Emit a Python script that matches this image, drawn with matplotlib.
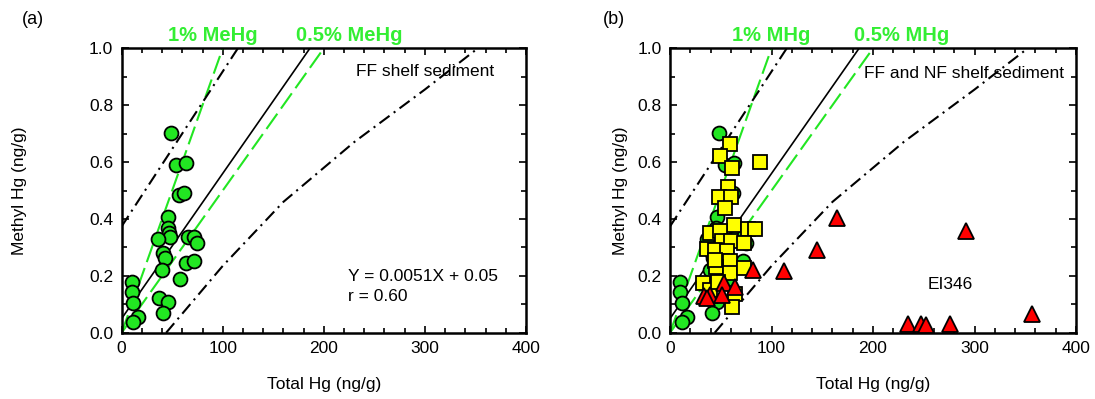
import matplotlib
matplotlib.use("Agg")
import matplotlib.pyplot as plt
from matplotlib.ticker import MultipleLocator

plt.rcParams['font.family'] = ['Liberation Sans', 'DejaVu Sans']

# FF shelf sediment (green circles), both panels
ff_x = [48.7, 53.7, 63.5, 57.0, 61.6, 46.1, 45.4, 47.0, 47.7, 36.2, 65.2, 71.8, 75.0,
        41.2, 42.8, 39.5, 63.5, 71.8, 57.6, 37.2, 46.1, 41.2, 9.9, 9.9, 11.5, 16.5, 11.5]
ff_y = [0.701, 0.589, 0.598, 0.484, 0.492, 0.407, 0.368, 0.351, 0.336, 0.329, 0.336, 0.336, 0.315,
        0.280, 0.262, 0.219, 0.245, 0.253, 0.188, 0.121, 0.109, 0.071, 0.180, 0.145, 0.104, 0.054, 0.039]

# NF shelf sediment (yellow squares), panel b
nf_x = [59.4, 48.8, 88.4, 61.0, 57.1, 47.9, 60.4, 53.8, 63.4, 76.9, 84.2, 38.9, 48.8, 51.2,
        60.1, 72.6, 36.3, 43.9, 56.1, 43.9, 51.2, 59.4, 45.5, 59.4, 72.6, 32.0, 38.9, 47.2,
        64.4, 61.1, 44.5]
nf_y = [0.665, 0.622, 0.601, 0.578, 0.514, 0.476, 0.476, 0.440, 0.380, 0.366, 0.365, 0.350, 0.359, 0.323,
        0.321, 0.317, 0.296, 0.292, 0.288, 0.251, 0.251, 0.251, 0.230, 0.211, 0.226, 0.175, 0.152, 0.177,
        0.135, 0.091, 0.257]

# EI346 (red triangles), panel b
ei_x = [164.0, 292.0, 145.0, 112.2, 81.8, 52.8, 64.4, 33.0, 39.6, 51.2, 36.3,
        234.3, 247.5, 252.4, 276.0, 356.4]
ei_y = [0.403, 0.356, 0.292, 0.216, 0.222, 0.175, 0.160, 0.128, 0.134, 0.134, 0.122,
        0.032, 0.032, 0.027, 0.032, 0.066]

# regression Y = 0.0051X + 0.05
slope, intercept = 0.0051, 0.05
reg_x = [0, 400]

# prediction band edges
up_x = [0, 115, 130]
up_y = [0.374, 1.0, 1.08]
lo_x = [44, 100, 160, 230, 300, 347, 360]
lo_y = [0.0, 0.235, 0.46, 0.67, 0.855, 0.985, 1.02]

# 1% and 0.5% ratio lines
ratio_x = [0, 400]

GREEN = '#22e622'
GREEN_TXT = '#33ee33'

fig = plt.figure(figsize=(10.95, 3.99), dpi=100)
ax_a = fig.add_axes([0.1111, 0.166, 0.3692, 0.713])
ax_b = fig.add_axes([0.6119, 0.166, 0.3708, 0.713])


def draw_lines(ax):
    ax.plot(ratio_x, [0.01 * v for v in ratio_x], color=GREEN, lw=1.5, dashes=(9, 3), zorder=2)
    ax.plot(ratio_x, [0.005 * v for v in ratio_x], color=GREEN, lw=1.5, dashes=(9, 3), zorder=2)
    ax.plot(reg_x, [slope * v + intercept for v in reg_x], color='black', lw=1.2, zorder=2)
    ax.plot(up_x, up_y, color='black', lw=1.5, dashes=(6, 2.5, 1, 2.5), zorder=2)
    ax.plot(lo_x, lo_y, color='black', lw=1.5, dashes=(6, 2.5, 1, 2.5), zorder=2)


def style(ax, ypad):
    ax.set_xlim(0, 400)
    ax.set_ylim(0, 1.0)
    ax.xaxis.set_major_locator(MultipleLocator(100))
    ax.xaxis.set_minor_locator(MultipleLocator(20))
    ax.yaxis.set_major_locator(MultipleLocator(0.2))
    ax.yaxis.set_minor_locator(MultipleLocator(0.1))
    ax.yaxis.set_major_formatter(plt.FormatStrFormatter('%.1f'))
    ax.tick_params(which='both', direction='in', top=True, right=True, labelsize=12.5, width=1.2)
    ax.tick_params(which='major', length=5, pad=6)
    ax.tick_params(which='minor', length=3.5)
    for s in ax.spines.values():
        s.set_linewidth(1.8)
    ax.set_xlabel('Total Hg (ng/g)', fontsize=12.5, labelpad=15)
    ax.set_ylabel('Methyl Hg (ng/g)', fontsize=12.5, labelpad=ypad)


# panel a
draw_lines(ax_a)
ax_a.plot(ff_x, ff_y, 'o', color=GREEN, mec='black', mew=1.3, ms=10, zorder=3)
style(ax_a, 45)
ax_a.text(90, 1.045, '1% MeHg', color=GREEN_TXT, fontsize=14.5, fontweight='bold',
          ha='center', va='center')
ax_a.text(225, 1.045, '0.5% MeHg', color=GREEN_TXT, fontsize=14.5, fontweight='bold',
          ha='center', va='center')
ax_a.text(232, 0.92, 'FF shelf sediment', fontsize=12.5, va='center')
ax_a.text(224, 0.198, 'Y = 0.0051X + 0.05', fontsize=12.5, va='center')
ax_a.text(224, 0.127, 'r = 0.60', fontsize=12.5, va='center')
fig.text(0.03, 0.95, '(a)', fontsize=13, ha='center', va='center')

# panel b
draw_lines(ax_b)
ax_b.plot(ff_x, ff_y, 'o', color=GREEN, mec='black', mew=1.3, ms=10, zorder=3)
ax_b.plot(nf_x, nf_y, 's', color='#ffff00', mec='black', mew=1.3, ms=10, zorder=4)
ax_b.plot(ei_x, ei_y, '^', color='#ff0000', mec='black', mew=1.3, ms=12, zorder=5)
style(ax_b, 7)
ax_b.text(100, 1.045, '1% MHg', color=GREEN_TXT, fontsize=14.5, fontweight='bold',
          ha='center', va='center')
ax_b.text(228, 1.045, '0.5% MHg', color=GREEN_TXT, fontsize=14.5, fontweight='bold',
          ha='center', va='center')
ax_b.text(191, 0.91, 'FF and NF shelf sediment', fontsize=12.5, va='center')
ax_b.text(254, 0.169, 'EI346', fontsize=12.5, va='center')
fig.text(0.561, 0.95, '(b)', fontsize=13, ha='center', va='center')

fig.savefig('out.png', dpi=100)
